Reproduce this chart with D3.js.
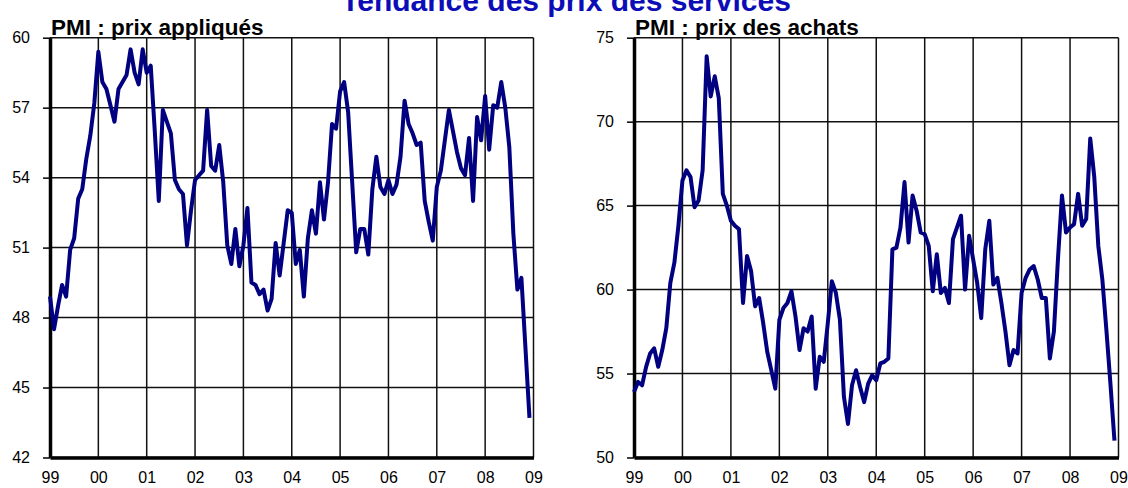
<!DOCTYPE html>
<html>
<head>
<meta charset="utf-8">
<script src="https://cdn.jsdelivr.net/npm/d3@7"></script>
<style>
body { margin: 0; background: #fff; }
svg { display: block; }
text { font-family: "Liberation Sans", Arial, sans-serif; }
</style>
</head>
<body>
<svg width="1128" height="488"></svg>
<script>
// Monthly values, Jan 1999 .. Dec 2008 (120 months).
var prix_appliques = [
	48.9, 47.5, 48.5, 49.4, 48.9, 50.9, 51.4, 53.1, 53.5, 54.8, 55.8, 57.2,
	59.4, 58.1, 57.8, 57.1, 56.4, 57.8, 58.1, 58.4, 59.5, 58.5, 58.0, 59.5,
	58.5, 58.8, 56.0, 53.0, 56.9, 56.4, 55.9, 53.9, 53.5, 53.3, 51.1, 52.6,
	53.9, 54.1, 54.3, 56.9, 54.5, 54.3, 55.4, 53.8, 51.1, 50.3, 51.8, 50.2,
	51.1, 52.7, 49.5, 49.4, 49.0, 49.2, 48.3, 48.8, 51.2, 49.8, 51.2, 52.6,
	52.5, 50.3, 50.9, 48.9, 51.4, 52.6, 51.6, 53.8, 52.2, 53.8, 56.3, 56.1,
	57.7, 58.1, 56.8, 53.8, 50.8, 51.8, 51.8, 50.7, 53.5, 54.9, 53.6, 53.3,
	53.9, 53.3, 53.7, 54.9, 57.3, 56.3, 55.9, 55.4, 55.5, 53.0, 52.1, 51.3,
	53.6, 54.3, 55.6, 56.9, 56.0, 55.1, 54.4, 54.1, 55.7, 53.0, 56.6, 55.6,
	57.5, 55.2, 57.1, 57.0, 58.1, 57.0, 55.3, 51.6, 49.2, 49.7, 46.7, 43.7
];

var prix_achats = [
	53.9, 54.5, 54.3, 55.4, 56.2, 56.5, 55.4, 56.4, 57.7, 60.4, 61.6, 63.8,
	66.5, 67.1, 66.7, 64.9, 65.3, 67.1, 73.9, 71.5, 72.7, 71.4, 65.7, 65.0,
	64.1, 63.8, 63.6, 59.2, 62.0, 61.1, 59.0, 59.5, 58.0, 56.3, 55.2, 54.1,
	58.2, 58.9, 59.2, 59.9, 58.4, 56.4, 57.7, 57.5, 58.4, 54.1, 56.0, 55.7,
	58.0, 60.5, 59.8, 58.2, 53.6, 52.0, 54.3, 55.2, 54.2, 53.3, 54.4, 54.9,
	54.6, 55.6, 55.7, 55.9, 62.4, 62.5, 63.7, 66.4, 62.8, 65.6, 64.7, 63.4,
	63.3, 62.6, 59.9, 62.1, 59.8, 60.1, 59.2, 63.0, 63.7, 64.4, 60.0, 63.2,
	61.8, 60.4, 58.3, 62.4, 64.1, 60.3, 60.7, 59.2, 57.5, 55.5, 56.4, 56.2,
	59.8, 60.7, 61.2, 61.4, 60.6, 59.5, 59.5, 55.9, 57.5, 61.8, 65.6, 63.4,
	63.7, 63.9, 65.7, 63.8, 64.2, 69.0, 66.7, 62.6, 60.6, 57.6, 54.4, 51.0
];

// Tick labels.
var year_labels = ["99", "00", "01", "02", "03", "04", "05", "06", "07", "08", "09"];
var ticks_appliques = [42, 45, 48, 51, 54, 57, 60];
var ticks_achats = [50, 55, 60, 65, 70, 75];

var title_text = "Tendance des prix des services";

var svg = d3.select("svg");

svg.append("rect")
	.attr("width", 1128)
	.attr("height", 488)
	.attr("fill", "#fff");

// Main title, cut off at the top like the original slide.
svg.append("text")
	.attr("x", 566)
	.attr("y", 11)
	.attr("text-anchor", "middle")
	.attr("font-size", 30)
	.attr("font-weight", "bold")
	.attr("fill", "#0d0db8")
	.text(title_text);

// Draw one panel.
function drawPanel(left, right, values, yTicks, label) {
	var top = 37.7;
	var bottom = 457.5;

	var x = d3.scaleLinear().domain([0, 120]).range([left, right]);
	var y = d3.scaleLinear().domain([yTicks[0], yTicks[yTicks.length - 1]]).range([bottom, top]);

	var g = svg.append("g");

	// Horizontal grid lines.
	g.append("g")
		.selectAll("line")
		.data(yTicks)
		.enter()
		.append("line")
		.attr("x1", left)
		.attr("x2", right)
		.attr("y1", function(d) { return y(d); })
		.attr("y2", function(d) { return y(d); })
		.attr("stroke", "#111")
		.attr("stroke-width", 1.5);

	// Vertical grid lines, one per year.
	g.append("g")
		.selectAll("line")
		.data(year_labels)
		.enter()
		.append("line")
		.attr("x1", function(d, i) { return x(i * 12); })
		.attr("x2", function(d, i) { return x(i * 12); })
		.attr("y1", top)
		.attr("y2", bottom)
		.attr("stroke", "#111")
		.attr("stroke-width", 1.5);

	// Y axis with labels.
	var yAxis = d3.axisLeft(y).tickValues(yTicks).tickSize(7).tickSizeOuter(0).tickPadding(13);
	var ya = g.append("g")
		.attr("transform", "translate(" + left + ",0)")
		.call(yAxis);
	ya.select(".domain").attr("stroke", "#000").attr("stroke-width", 3.5);
	ya.selectAll(".tick line").attr("stroke", "#000").attr("stroke-width", 1.5);
	ya.selectAll(".tick text")
		.attr("font-size", 16)
		.attr("font-family", "Liberation Sans, Arial, sans-serif")
		.attr("fill", "#000");

	// X axis with year labels.
	var xAxis = d3.axisBottom(x)
		.tickValues(d3.range(0, 121, 12))
		.tickFormat(function(d) { return year_labels[d / 12]; })
		.tickSize(0)
		.tickSizeOuter(0)
		.tickPadding(14);
	var xa = g.append("g")
		.attr("transform", "translate(0," + bottom + ")")
		.call(xAxis);
	xa.select(".domain").attr("stroke", "#000").attr("stroke-width", 3.5);
	xa.selectAll(".tick text")
		.attr("font-size", 16)
		.attr("font-family", "Liberation Sans, Arial, sans-serif")
		.attr("fill", "#000");

	// Data line.
	var line = d3.line()
		.x(function(d, i) { return x(i); })
		.y(function(d) { return y(d); });

	g.append("path")
		.datum(values)
		.attr("d", line)
		.attr("fill", "none")
		.attr("stroke", "#000080")
		.attr("stroke-width", 4)
		.attr("stroke-linejoin", "round");

	// Panel title.
	g.append("text")
		.attr("x", left + 1)
		.attr("y", 35)
		.attr("font-size", 22.5)
		.attr("font-weight", "bold")
		.attr("fill", "#000")
		.text(label);
}

drawPanel(50, 533.5, prix_appliques, ticks_appliques, "PMI : prix appliqués");
drawPanel(634, 1118.5, prix_achats, ticks_achats, "PMI : prix des achats");
</script>
</body>
</html>
